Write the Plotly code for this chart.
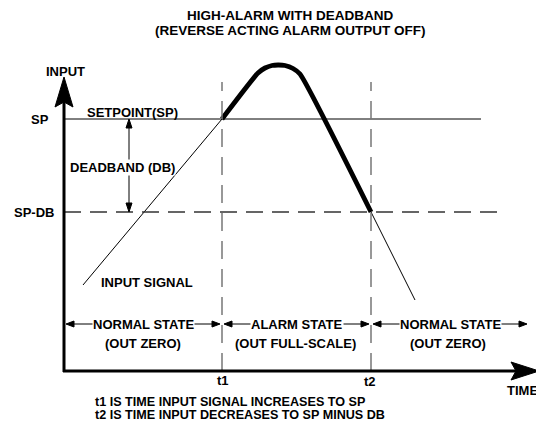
import plotly.graph_objects as go

# ---- data (time units / input units) ----
rise_time = [19, 158]
rise_input = [86, 252]
alarm_time = [158, 194, 201, 208, 214, 221, 229, 236, 307]
alarm_input = [252, 298, 303, 305.5, 306, 305.5, 302.5, 297, 159]
fall_time = [307, 351]
fall_input = [159, 71]

SP = 252
SP_DB = 159
t1 = 158
t2 = 307
axis_time_end = 475
axis_input_end = 294

FONT = "Liberation Sans, Arial, sans-serif"

fig = go.Figure()
fig.add_trace(go.Scatter(x=rise_time, y=rise_input, mode="lines",
                         line=dict(color="black", width=1), hoverinfo="skip"))
fig.add_trace(go.Scatter(x=fall_time, y=fall_input, mode="lines",
                         line=dict(color="black", width=1), hoverinfo="skip"))
fig.add_trace(go.Scatter(x=alarm_time, y=alarm_input, mode="lines",
                         line=dict(color="black", width=4.8, shape="spline", smoothing=0.5),
                         hoverinfo="skip"))

shapes = []


def line(x0, y0, x1, y1, color="black", width=1, dash=None):
    d = dict(type="line", xref="x", yref="y", x0=x0, y0=y0, x1=x1, y1=y1,
             line=dict(color=color, width=width))
    if dash:
        d["line"]["dash"] = dash
    shapes.append(d)


def head(tx, ty, direction, length, half, notch=0.0):
    # filled arrow head in data units (1 unit = 1 px here)
    dx, dy = direction
    px, py = -dy, dx
    bx, by = tx - dx * length, ty - dy * length
    nx, ny = tx - dx * (length - notch), ty - dy * (length - notch)
    path = (f"M {tx},{ty} L {bx + px * half},{by + py * half} "
            f"L {nx},{ny} L {bx - px * half},{by - py * half} Z")
    shapes.append(dict(type="path", xref="x", yref="y", path=path,
                       fillcolor="black", line=dict(color="black", width=1)))


# reference lines
line(0, SP, 417, SP, width=1)
line(0, SP_DB, 437, SP_DB, color="#333333", width=1.3, dash="17px,9px")
line(t1, 0, t1, 289, color="#777777", width=1.5, dash="18px,10px")
line(t2, 0, t2, 289, color="#777777", width=1.5, dash="18px,10px")

# axes
line(0, -1, 0, 272, width=3)
head(0, axis_input_end, (0, 1), 30, 9, notch=5)
line(-1, 0, 455, 0, width=3)
head(axis_time_end, 0, (1, 0), 28, 9, notch=5)

# deadband arrow
line(65, SP_DB + 4, 65, SP - 4, width=1)
head(65, SP, (0, 1), 9, 3)
head(65, SP_DB, (0, -1), 9, 3)

# state arrows
state_y = 47
for a, b in [(2, 156), (160, 305), (309, 463)]:
    line(a + 4, state_y, b - 4, state_y, width=1)
    head(a, state_y, (-1, 0), 8, 3)
    head(b, state_y, (1, 0), 8, 3)

annotations = []


def text(x, y, s, size=13, xanchor="center", bg=None):
    d = dict(x=x, y=y, xref="x", yref="y", text=f"<b>{s}</b>", showarrow=False,
             xanchor=xanchor, yanchor="middle",
             font=dict(family=FONT, size=size, color="black"))
    if bg:
        d["bgcolor"] = bg
        d["borderpad"] = 0
    annotations.append(d)


text(226, 356, "HIGH-ALARM WITH DEADBAND", size=13.5)
text(226, 341, "(REVERSE ACTING ALARM OUTPUT OFF)", size=13.5)
text(1, 300, "INPUT")
text(-13, SP, "SP", xanchor="right")
text(-8, SP_DB, "SP-DB", xanchor="right")
text(68, 259, "SETPOINT(SP)")
text(58, 204, "DEADBAND (DB)", bg="white")
text(83, 89, "INPUT SIGNAL")
text(79, state_y, "NORMAL STATE", bg="white")
text(79, 28, "(OUT ZERO)")
text(233, state_y, "ALARM STATE", bg="white")
text(231, 28, "(OUT FULL-SCALE)")
text(386, state_y, "NORMAL STATE", bg="white")
text(384, 28, "(OUT ZERO)")
text(t1 + 1, -9, "t1")
text(t2 - 1, -10, "t2")
text(476, -19, "TIME", xanchor="right")
text(29, -30.5, "t1 IS TIME INPUT SIGNAL INCREASES TO SP", size=12.6, xanchor="left")
text(29, -43.5, "t2 IS TIME INPUT DECREASES TO SP MINUS DB", size=12.6, xanchor="left")

# the page puts the figure 8 px in from the top-left corner of the window
fig.update_layout(
    width=536, height=415,
    margin=dict(l=0, r=0, t=0, b=0),
    paper_bgcolor="white", plot_bgcolor="white",
    showlegend=False,
    xaxis=dict(range=[-56, 480], visible=False, fixedrange=True),
    yaxis=dict(range=[-52, 363], visible=False, fixedrange=True),
    shapes=shapes,
    annotations=annotations,
)

fig.write_html("out.html")
